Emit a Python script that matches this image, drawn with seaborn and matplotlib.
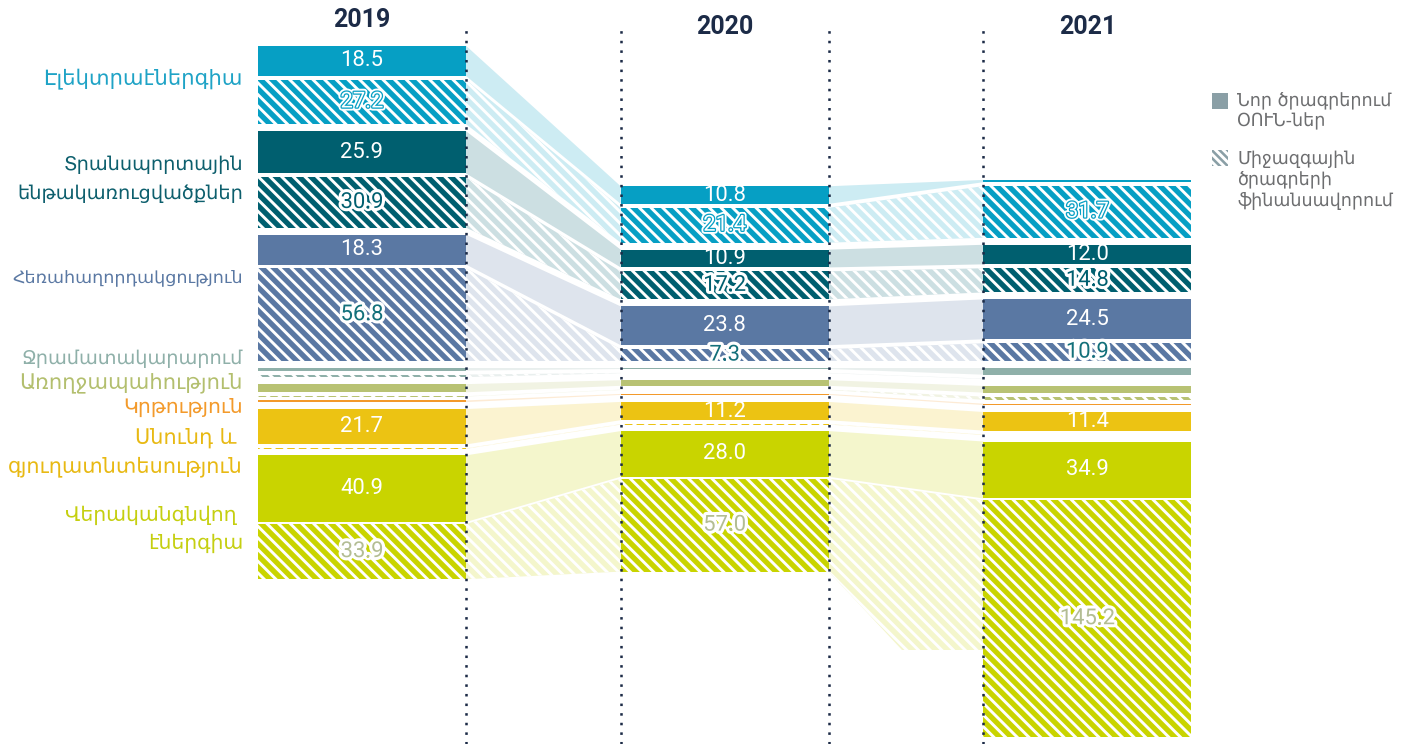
import numpy as np
import pandas as pd
import matplotlib
matplotlib.use("Agg")
import matplotlib.pyplot as plt
import matplotlib.patheffects as pe
from matplotlib.patches import Rectangle
import seaborn as sns

# ---------------- data ----------------
years = ["2019", "2020", "2021"]
categories = [
    "Էլեկտրաէներգիա",
    "Տրանսպորտային\nենթակառուցվածքներ",
    "Հեռահաղորդակցություն",
    "Ջրամատակարարում",
    "Առողջապահություն",
    "Կրթություն",
    "Սնունդ և \nգյուղատնտեսություն",
    "Վերականգնվող \nէներգիա",
]
upper_group = [True, True, True, False, False, False, False, False]

# Նոր ծրագրերում ՕՈՒՆ-ներ (solid)
new_2019 = [18.5, 25.9, 18.3, 1.6, 5.0, 1.0, 21.7, 40.9]
new_2020 = [10.8, 10.9, 23.8, 0.6, 3.4, 0.6, 11.2, 28.0]
new_2021 = [1.4, 12.0, 24.5, 4.1, 4.1, 0.8, 11.4, 34.9]
# Միջազգային ծրագրերի ֆինանսավորում (hatched)
intl_2019 = [27.2, 30.9, 56.8, 1.6, 0.2, 0.0, 0.3, 33.9]
intl_2020 = [21.4, 17.2, 7.3, 0.2, 0.2, 0.0, 0.3, 57.0]
intl_2021 = [31.7, 14.8, 10.9, 0.2, 2.0, 0.0, 0.3, 145.2]

legend_labels = ["Նոր ծրագրերում\nՕՈՒՆ-ներ", "Միջազգային\nծրագրերի\nֆինանսավորում"]

new_vals = [new_2019, new_2020, new_2021]
intl_vals = [intl_2019, intl_2020, intl_2021]

# ---------------- style ----------------
cat_colors = ["#069fc4", "#005f6f", "#5a78a3", "#8fb0a9", "#b8c273",
              "#f39a2b", "#ecc313", "#c9d400"]
label_colors = ["#1fa3c6", "#0d5f6d", "#5a78a3", "#8fb0a9", "#b3bf6e",
                "#f39a2b", "#e8b913", "#c5cf10"]
hatch_text = {0: ("white", "#069fc4"), 1: ("#005f6f", None), 2: ("#13707a", None),
              7: ("#b3bd93", None)}
year_color = "#1c2b47"
legend_grey = "#8a9fa6"
legend_text = "#6d6e70"

DPI = 140
W_PX, H_PX = 1402, 744
PX_PER_UNIT = 1.63
Y0_PX = 361
X0_PX = 362
PX_PER_X = 362.7
BAR_W = 208 / PX_PER_X
# gap (in value units) between the solid and hatched part of each category
gap_in = [2.4, 2.4, 2.4, 2.4, 2.4, 2.4, 2.4, 1.2]
# gap after each category (away from the centre line)
gap_out = [4.3, 4.3, 4.3, 4.3, 2.4, 4.3, 4.0, 4.3]
CENTER_GAP = 4.3
HATCH = "\\\\\\\\"
BAND_CLIP_PX = 650
LABEL_MIN = 7
cat_label_px = [79, 179, 277, 358, 383, 407, 452, 529]
cat_label_width_px = [200, 225, 230, 222, 224, 120, 235, 178]


def dy(px):
    return (Y0_PX - px) / PX_PER_UNIT


def dx(px):
    return (px - X0_PX) / PX_PER_X


def pt(px):
    return px * 72 / DPI


sns.set_theme(style="white")
plt.rcParams["font.family"] = ["DejaVu Sans"]
plt.rcParams["hatch.linewidth"] = 1.5

fig = plt.figure(figsize=(W_PX / DPI, H_PX / DPI), dpi=DPI)
ax = fig.add_axes([0, 0, 1, 1])
ax.set_xlim(dx(0), dx(W_PX))
ax.set_ylim(dy(H_PX), dy(0))
ax.axis("off")

# ---------------- layout of stacked segments ----------------
rows = []
for yi, yr in enumerate(years):
    nv, iv = new_vals[yi], intl_vals[yi]
    y = 0.0
    up_idx = [i for i in range(len(categories)) if upper_group[i]][::-1]
    for i in up_idx:
        if iv[i] > 0:
            rows.append(dict(year=yi, ci=i, kind="intl", bottom=y, top=y + iv[i], value=iv[i]))
            y = y + iv[i] + gap_in[i]
        rows.append(dict(year=yi, ci=i, kind="new", bottom=y, top=y + nv[i], value=nv[i]))
        y = y + nv[i] + gap_out[i]
    y = -CENTER_GAP
    lo_idx = [i for i in range(len(categories)) if not upper_group[i]]
    for i in lo_idx:
        rows.append(dict(year=yi, ci=i, kind="new", bottom=y - nv[i], top=y, value=nv[i]))
        y = y - nv[i]
        if iv[i] > 0:
            y -= gap_in[i]
            rows.append(dict(year=yi, ci=i, kind="intl", bottom=y - iv[i], top=y, value=iv[i]))
            y -= iv[i]
        y -= gap_out[i]
df = pd.DataFrame(rows)


def light(c, a=0.2):
    r, g, b = matplotlib.colors.to_rgb(c)
    return (1 - a + a * r, 1 - a + a * g, 1 - a + a * b)


# ---------------- bands ----------------
clip_rect = Rectangle((dx(0), dy(BAND_CLIP_PX)), dx(W_PX) - dx(0), dy(0) - dy(BAND_CLIP_PX),
                      transform=ax.transData, visible=False)
ax.add_patch(clip_rect)
for (ci, kind), grp in df.groupby(["ci", "kind"]):
    g = grp.set_index("year")
    for yi in range(len(years) - 1):
        if yi in g.index and (yi + 1) in g.index:
            a, b = g.loc[yi], g.loc[yi + 1]
            xs = [yi + BAR_W / 2, yi + 1 - BAR_W / 2]
            poly = ax.fill_between(xs, [a["bottom"], b["bottom"]], [a["top"], b["top"]],
                                   facecolor=light(cat_colors[ci]),
                                   edgecolor="white" if kind == "intl" else "none",
                                   hatch=HATCH if kind == "intl" else None,
                                   linewidth=0, zorder=1)
            poly.set_clip_path(clip_rect)

# ---------------- bars ----------------
for kind in ["new", "intl"]:
    sub = df[df["kind"] == kind]
    ax.bar(sub["year"], sub["top"] - sub["bottom"], bottom=sub["bottom"], width=BAR_W,
           color=[cat_colors[c] for c in sub["ci"]],
           edgecolor="white" if kind == "intl" else "none",
           hatch=HATCH if kind == "intl" else None,
           linewidth=0, zorder=2)

# ---------------- value labels ----------------
for _, r in df.iterrows():
    if r["value"] < LABEL_MIN:
        continue
    ci = int(r["ci"])
    yc = (r["top"] + r["bottom"]) / 2
    lab = f"{r['value']:.1f}"
    if r["kind"] == "new":
        ax.text(r["year"], yc, lab, ha="center", va="center", color="white",
                fontsize=pt(22), family=["Roboto", "DejaVu Sans"], zorder=5)
    else:
        fill, outline = hatch_text.get(ci, (cat_colors[ci], None))
        effects = [pe.Stroke(linewidth=3.2, foreground="white")]
        if outline:
            effects.append(pe.Stroke(linewidth=1.3, foreground=outline))
        effects.append(pe.Normal())
        ax.text(r["year"], yc, lab, ha="center", va="center", color=fill,
                fontsize=pt(22), family=["Roboto", "DejaVu Sans"], zorder=5,
                path_effects=effects)

# ---------------- dotted guide lines ----------------
guide_x = [0 + BAR_W / 2, 1 - BAR_W / 2, 1 + BAR_W / 2, 2 - BAR_W / 2]
ax.vlines(guide_x, dy(H_PX), dy(30), colors=year_color, linewidth=1.3,
          linestyles=(0, (1, 2.8)), zorder=4)

# ---------------- year labels ----------------
year_label_px = [20, 27, 27]
for yi, yr in enumerate(years):
    ax.text(yi, dy(year_label_px[yi]), yr, ha="center", va="center",
            fontsize=pt(25), fontweight="bold", color=year_color,
            family=["Roboto", "DejaVu Sans"])

# ---------------- category labels ----------------
renderer = fig.canvas.get_renderer()
base_fs = pt(21.5)
for i, name in enumerate(categories):
    t = ax.text(dx(243), dy(cat_label_px[i]), name, ha="right", va="center",
                multialignment="right", fontsize=base_fs, color=label_colors[i],
                linespacing=1.45)
    w = t.get_window_extent(renderer=renderer).width
    if w > cat_label_width_px[i]:
        fs = base_fs * cat_label_width_px[i] / w
        t.set_fontsize(fs)
        t.set_linespacing(1.45 * base_fs / fs)

# ---------------- legend ----------------
def fx(px):
    return px / W_PX


def fy(py):
    return 1 - py / H_PX


for k, (top_px, txt_c) in enumerate([(93, 111), (150, 180)]):
    rect = Rectangle((fx(1212), fy(top_px + 16)), 16 / W_PX, 16 / H_PX,
                     transform=fig.transFigure, facecolor=legend_grey,
                     edgecolor="white" if k == 1 else "none",
                     hatch="\\" * 6 if k == 1 else None, linewidth=0)
    fig.patches.append(rect)
    fig.text(fx(1237), fy(txt_c), legend_labels[k], ha="left", va="center",
             fontsize=pt(17.5), color=legend_text, linespacing=1.25)

fig.savefig("out.png", dpi=DPI)
